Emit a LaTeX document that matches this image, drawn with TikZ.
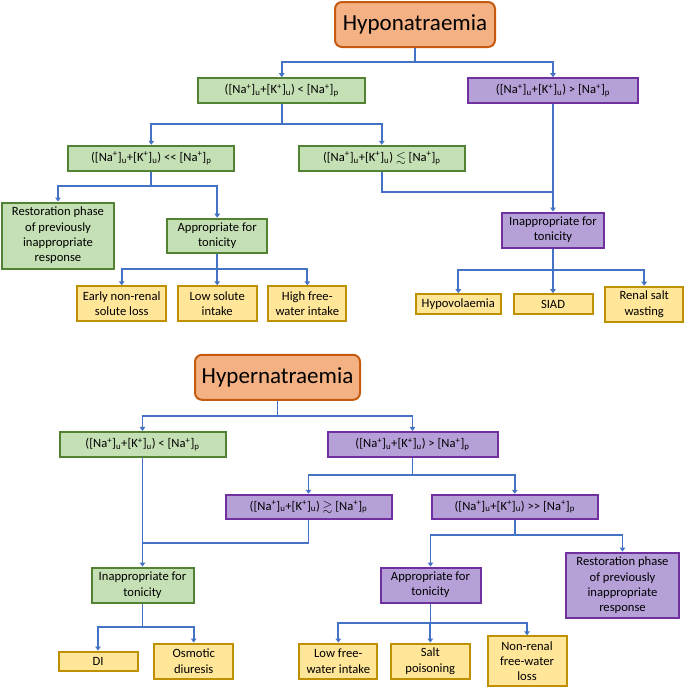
\documentclass[tikz,border=0pt]{standalone}
\usepackage{fontspec}
\setmainfont{Carlito}
\usepackage{amssymb}
\usetikzlibrary{arrows.meta}
\definecolor{grnfill}{HTML}{C5E0B4}
\definecolor{grnline}{HTML}{548235}
\definecolor{purfill}{HTML}{B5A0D8}
\definecolor{purline}{HTML}{7030A0}
\definecolor{yelfill}{HTML}{FFE699}
\definecolor{yelline}{HTML}{BF9000}
\definecolor{orafill}{HTML}{F4B183}
\definecolor{oraline}{HTML}{C55A11}
\definecolor{linkblue}{HTML}{4472C4}
\newcommand{\uratio}[1]{([Na\textsuperscript{+}]\textsubscript{u}+[K\textsuperscript{+}]\textsubscript{u}) #1 [Na\textsuperscript{+}]\textsubscript{p}}

\begin{document}
\begin{tikzpicture}[x=1pt, y=-1pt,
  wh/.style 2 args = {minimum width=#1pt, minimum height=#2pt},
  box/.style = {draw, line width=2pt, inner sep=1pt, align=center, font=\fontsize{12.6}{15.3}\selectfont},
  topbox/.style = {draw=oraline, fill=orafill, line width=2pt, rounded corners=7pt, inner sep=1pt, font=\fontsize{23}{27}\selectfont},
  grn/.style = {box, draw=grnline, fill=grnfill},
  pur/.style = {box, draw=purline, fill=purfill},
  yel/.style = {box, draw=yelline, fill=yelfill},
  bus/.style = {draw=linkblue, line width=1.8pt},
  link/.style = {bus, -{Triangle[length=4pt,width=5.5pt]}}]
\useasboundingbox (0,0) rectangle (685,689);

\node[topbox, wh={160}{45}] (hypo) at (415,24.5) {Hyponatraemia};
\node[grn, wh={167}{25}] (lt1) at (281.7,90.7) {\uratio{<}};
\node[pur, wh={170}{25}] (gt1) at (553,90.7) {\uratio{>}};
\node[grn, wh={166}{25}] (ll1) at (151.3,158.3) {\uratio{<\kern0pt<}};
\node[grn, wh={166}{25}] (le1) at (381.8,158.3) {\uratio{$\lesssim$}};
\node[grn, wh={112}{66}] (rest1) at (58,235.5) {Restoration phase\\of previously\\inappropriate\\response};
\node[grn, wh={100}{34}] (app1) at (217.2,235.7) {Appropriate for\\tonicity};
\node[pur, wh={102}{35}] (inapp1) at (553,230) {Inappropriate for\\tonicity};
\node[yel, wh={89}{35}] (early) at (121.7,303.8) {Early non-renal\\solute loss};
\node[yel, wh={79}{35}] (lowsol) at (217.2,303.8) {Low solute\\intake};
\node[yel, wh={78}{35}] (highfw) at (307.3,303.8) {High free-\\water intake};
\node[yel, wh={85}{20}] (hypov) at (458.3,304.2) {Hypovolaemia};
\node[yel, wh={79}{20}] (siad) at (553,304.2) {SIAD};
\node[yel, wh={78}{35}] (renal) at (644.2,304.2) {Renal salt\\wasting};

\node[topbox, wh={165}{45}] (hyper) at (277.5,377.3) {Hypernatraemia};
\node[grn, wh={166}{25.5}] (lt2) at (142.5,444.7) {\uratio{<}};
\node[pur, wh={170}{25.5}] (gt2) at (412.5,444.7) {\uratio{>}};
\node[pur, wh={166}{24.5}] (ge2) at (308.5,507) {\uratio{$\gtrsim$}};
\node[pur, wh={166}{24.5}] (gg2) at (514.8,507) {\uratio{>\kern0pt>}};
\node[grn, wh={102}{35.5}] (inapp2) at (142.5,585.3) {Inappropriate for\\tonicity};
\node[pur, wh={100}{35}] (app2) at (430.5,585) {Appropriate for\\tonicity};
\node[pur, wh={113}{65.5}] (rest2) at (622.5,585.3) {Restoration phase\\of previously\\inappropriate\\response};
\node[yel, wh={79}{19.5}] (di) at (98,661.3) {DI};
\node[yel, wh={79}{35.5}] (osm) at (193.7,661.3) {Osmotic\\diuresis};
\node[yel, wh={78}{35.5}] (lowfw) at (338.3,661.3) {Low free-\\water intake};
\node[yel, wh={79}{35.5}] (salt) at (430.3,661.3) {Salt\\poisoning};
\node[yel, wh={79}{50}] (nonren) at (527,661.3) {Non-renal\\free-water\\loss};

\draw[link] (hypo.south) -- (hypo.south |- 0,62.3) -| (lt1.north);
\draw[link] (hypo.south) -- (hypo.south |- 0,62.3) -| (gt1.north);
\draw[link] (lt1.south) -- (lt1.south |- 0,124) -| (ll1.north);
\draw[link] (lt1.south) -- (lt1.south |- 0,124) -| (le1.north);
\draw[link] (ll1.south) -- (ll1.south |- 0,185.7) -| (rest1.north);
\draw[link] (ll1.south) -- (ll1.south |- 0,185.7) -| (app1.north);
\coordinate (j1) at (553,191.7);
\draw[bus] (le1.south) |- (j1);
\draw[link] (gt1.south) -- (inapp1.north);
\draw[link] (app1.south) -- (app1.south |- 0,269.3) -| (early.north);
\draw[link] (app1.south) -- (app1.south |- 0,269.3) -| (lowsol.north);
\draw[link] (app1.south) -- (app1.south |- 0,269.3) -| (highfw.north);
\draw[link] (inapp1.south) -- (inapp1.south |- 0,270) -| (hypov.north);
\draw[link] (inapp1.south) -- (inapp1.south |- 0,270) -| (siad.north);
\draw[link] (inapp1.south) -- (inapp1.south |- 0,270) -| (renal.north);

\draw[link] (hyper.south) -- (hyper.south |- 0,415.7) -| (lt2.north);
\draw[link] (hyper.south) -- (hyper.south |- 0,415.7) -| (gt2.north);
\draw[link] (gt2.south) -- (gt2.south |- 0,475) -| (ge2.north);
\draw[link] (gt2.south) -- (gt2.south |- 0,475) -| (gg2.north);
\coordinate (j2) at (142.5,543.3);
\draw[bus] (ge2.south) |- (j2);
\draw[link] (lt2.south) -- (inapp2.north);
\draw[link] (gg2.south) -- (gg2.south |- 0,535) -| (app2.north);
\draw[link] (gg2.south) -- (gg2.south |- 0,535) -| (rest2.north);
\draw[link] (inapp2.south) -- (inapp2.south |- 0,627.3) -| (di.north);
\draw[link] (inapp2.south) -- (inapp2.south |- 0,627.3) -| (osm.north);
\draw[link] (app2.south) -- (app2.south |- 0,623.3) -| (lowfw.north);
\draw[link] (app2.south) -- (app2.south |- 0,623.3) -| (salt.north);
\draw[link] (app2.south) -- (app2.south |- 0,623.3) -| (nonren.north);
\end{tikzpicture}
\end{document}
